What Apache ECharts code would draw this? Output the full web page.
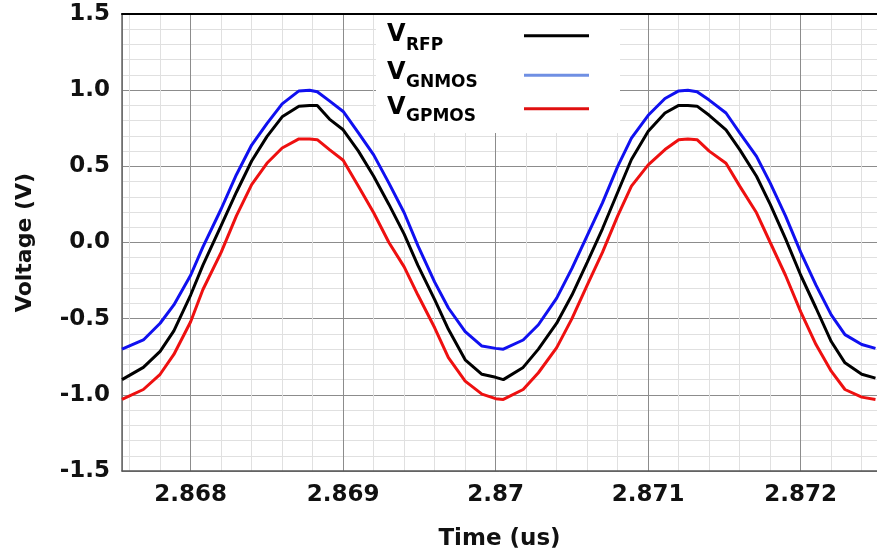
<!DOCTYPE html>
<html>
<head>
<meta charset="utf-8">
<script src="https://cdn.jsdelivr.net/npm/echarts@6/dist/echarts.min.js"></script>
<style>html,body{margin:0;padding:0;background:#fff}#c{width:877px;height:559px}</style>
</head>
<body>
<div id="c"></div>
<script>
const timeUs = [2.86755,2.86769,2.8678,2.86789,2.868,2.86808,2.8682,2.8683,2.8684,2.8685,2.8686,2.86871,2.86878,2.86883,2.86891,2.869,2.8691,2.8692,2.8693,2.8694,2.86949,2.8696,2.86969,2.8698,2.86991,2.870,2.87005,2.87018,2.87028,2.8704,2.8705,2.8706,2.8707,2.8708,2.87089,2.871,2.87111,2.8712,2.87126,2.87132,2.8714,2.87151,2.8716,2.87171,2.8718,2.8719,2.872,2.8721,2.8722,2.87229,2.8724,2.87249];
const vRFP = [-0.90,-0.82,-0.715,-0.58,-0.345,-0.15,0.11,0.33,0.535,0.695,0.825,0.895,0.90,0.90,0.81,0.74,0.60,0.435,0.25,0.055,-0.15,-0.375,-0.57,-0.77,-0.865,-0.885,-0.90,-0.82,-0.70,-0.53,-0.345,-0.13,0.09,0.33,0.545,0.73,0.85,0.90,0.90,0.895,0.835,0.74,0.61,0.435,0.25,0.025,-0.215,-0.43,-0.65,-0.79,-0.865,-0.89];
const vGNMOS = [-0.70,-0.64,-0.53,-0.41,-0.215,-0.03,0.22,0.445,0.64,0.78,0.91,0.995,1.0,0.99,0.93,0.86,0.72,0.575,0.39,0.195,-0.02,-0.26,-0.43,-0.585,-0.68,-0.695,-0.70,-0.64,-0.54,-0.365,-0.17,0.045,0.26,0.50,0.685,0.835,0.945,0.995,1.0,0.99,0.935,0.85,0.72,0.565,0.39,0.175,-0.065,-0.28,-0.475,-0.605,-0.67,-0.695];
const vGPMOS = [-1.03,-0.965,-0.865,-0.735,-0.52,-0.31,-0.065,0.175,0.38,0.52,0.62,0.68,0.68,0.675,0.61,0.54,0.37,0.195,0.0,-0.16,-0.345,-0.56,-0.755,-0.91,-0.995,-1.025,-1.03,-0.965,-0.855,-0.69,-0.50,-0.28,-0.065,0.175,0.37,0.51,0.61,0.675,0.68,0.675,0.60,0.52,0.37,0.195,0.0,-0.215,-0.455,-0.67,-0.845,-0.965,-1.015,-1.03];
const legendSubs = ['RFP','GNMOS','GPMOS'];
const legendColors = ['#000000','#6f8fe3','#e01010'];
const seriesColors = ['#000000','#1010f0','#ee1010'];
const xLabelName = 'Time (us)';
const yLabelName = 'Voltage (V)';

const FONT = '"DejaVu Sans", sans-serif';
const chart = echarts.init(document.getElementById('c'), null, {renderer: 'canvas'});

function pairs(v) { return timeUs.map((t, i) => [t, v[i]]); }

const legendY = [35, 73, 108];
const legendSubY = [46, 83, 116.5];
const legendLineY = [35.7, 75.3, 108.7];
const legendGraphics = [{
  type: 'rect', shape: {x: 376, y: 15, width: 244, height: 118},
  style: {fill: '#ffffff'}, z: 100
}];
legendSubs.forEach((s, i) => {
  legendGraphics.push({type: 'text', x: 387, y: legendY[i], z: 101,
    style: {text: 'V', font: 'bold 24px ' + FONT, fill: '#000', verticalAlign: 'middle', align: 'left'}});
  legendGraphics.push({type: 'text', x: 406, y: legendSubY[i], z: 101,
    style: {text: s, font: 'bold 17px ' + FONT, fill: '#000', verticalAlign: 'middle', align: 'left'}});
  legendGraphics.push({type: 'line', z: 101,
    shape: {x1: 524, y1: legendLineY[i], x2: 589, y2: legendLineY[i]},
    style: {stroke: legendColors[i], lineWidth: 3}});
});

const option = {
  backgroundColor: '#ffffff',
  animation: false,
  grid: {left: 122, right: 0, top: 14, bottom: 88, containLabel: false},
  xAxis: [{
    type: 'value', min: 2.86755, max: 2.8725, splitNumber: 5,
    name: xLabelName, nameLocation: 'middle', nameGap: 57,
    nameTextStyle: {fontFamily: FONT, fontWeight: 'bold', fontSize: 23, color: '#111'},
    axisLine: {show: true, onZero: false, lineStyle: {color: '#555', width: 1.5}},
    axisTick: {show: false},
    axisLabel: {showMinLabel: false, showMaxLabel: false, margin: 13,
      fontFamily: FONT, fontWeight: 'bold', fontSize: 23, color: '#111'},
    splitLine: {show: true, lineStyle: {color: '#8c8c8c', width: 1}},
    minorTick: {show: false, splitNumber: 5},
    minorSplitLine: {show: true, lineStyle: {color: '#e0e0e0', width: 1}}
  }, {
    type: 'value', position: 'top', min: 2.86755, max: 2.8725,
    axisLine: {show: true, onZero: false, lineStyle: {color: '#000', width: 2}},
    axisTick: {show: false}, axisLabel: {show: false}, splitLine: {show: false}
  }],
  yAxis: {
    type: 'value', min: -1.5, max: 1.5, interval: 0.5,
    name: yLabelName, nameLocation: 'middle', nameGap: 86, nameRotate: 90,
    nameTextStyle: {fontFamily: FONT, fontWeight: 'bold', fontSize: 22, color: '#111'},
    axisLine: {show: true, onZero: false, lineStyle: {color: '#666', width: 1.5}},
    axisTick: {show: false},
    axisLabel: {margin: 12, fontFamily: FONT, fontWeight: 'bold', fontSize: 23, color: '#111',
      formatter: v => v.toFixed(1)},
    splitLine: {show: true, lineStyle: {color: '#8c8c8c', width: 1}},
    minorTick: {show: false, splitNumber: 5},
    minorSplitLine: {show: true, lineStyle: {color: '#e0e0e0', width: 1}}
  },
  series: [
    {name: 'VGPMOS', type: 'line', data: pairs(vGPMOS), showSymbol: false, lineStyle: {color: seriesColors[2], width: 3}, itemStyle: {color: seriesColors[2]}},
    {name: 'VGNMOS', type: 'line', data: pairs(vGNMOS), showSymbol: false, lineStyle: {color: seriesColors[1], width: 3}, itemStyle: {color: seriesColors[1]}},
    {name: 'VRFP', type: 'line', data: pairs(vRFP), showSymbol: false, lineStyle: {color: seriesColors[0], width: 3}, itemStyle: {color: seriesColors[0]}}
  ],
  graphic: legendGraphics
};
chart.setOption(option);
</script>
</body>
</html>
